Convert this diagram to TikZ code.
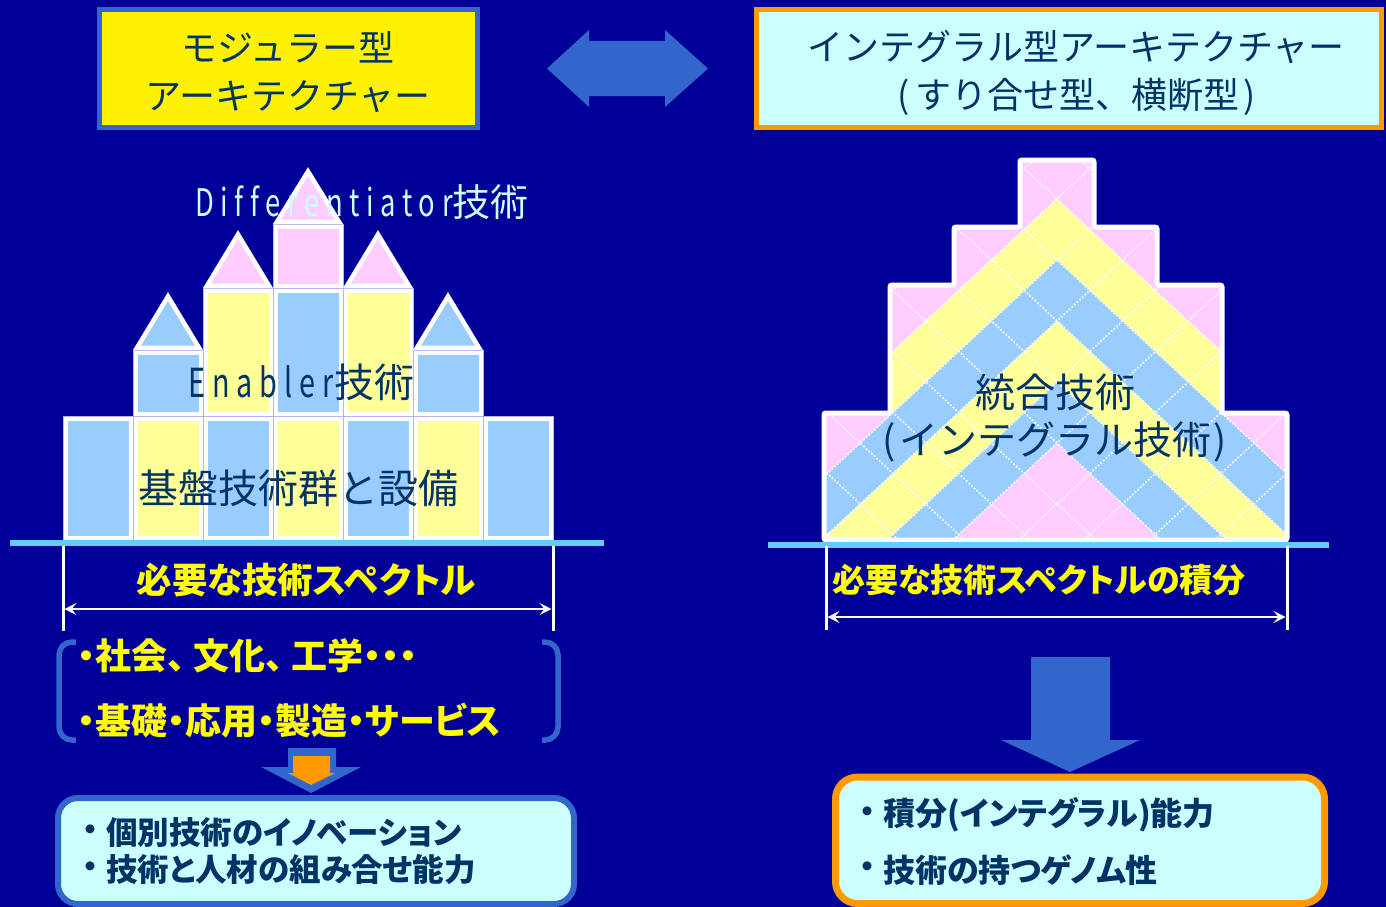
\documentclass[tikz,border=0pt]{standalone}
\usepackage{fontspec}
\setmainfont{Noto Sans CJK JP}
\newfontfamily\jpfont{Noto Sans CJK JP}
\newfontfamily\jpprop[RawFeature=+palt]{Noto Sans CJK JP}
\newfontfamily\latwide[FakeStretch=0.72,LetterSpace=17.5,Ligatures=NoCommon]{Noto Sans CJK JP}
\usetikzlibrary{arrows.meta}

\definecolor{bgnavy}{HTML}{000099}
\definecolor{shapeblue}{HTML}{3366CC}
\definecolor{inknavy}{HTML}{003366}
\definecolor{palecyan}{HTML}{CCFFFF}
\definecolor{warmorange}{HTML}{FF9900}
\definecolor{tilblue}{HTML}{99CCFF}
\definecolor{tilyellow}{HTML}{FFFF99}
\definecolor{tilpink}{HTML}{FFCCFF}
\definecolor{groundline}{HTML}{66CCFF}
\definecolor{seam}{HTML}{B4B4F0}
\definecolor{brightyellow}{HTML}{FFFF00}

\tikzset{
  title/.style={text=inknavy, inner sep=0pt, font=\jpfont\fontsize{36}{40}\selectfont},
  bigink/.style={text=inknavy, inner sep=0pt, font=\jpfont\fontsize{40}{44}\selectfont},
  yellowlabel/.style={text=brightyellow, inner sep=0pt, font=\jpprop\bfseries\fontsize{35.5}{40}\selectfont},
  fieldtext/.style={text=brightyellow, inner sep=0pt, anchor=west, font=\jpprop\bfseries\fontsize{36}{40}\selectfont},
  boxtext/.style={text=inknavy, inner sep=0pt, anchor=west, font=\jpprop\bfseries\fontsize{31.5}{36}\selectfont},
  boxbullet/.style={text=inknavy, inner sep=0pt, font=\jpfont\bfseries\fontsize{32}{36}\selectfont},
  extline/.style={white, line width=3pt},
  dimarrow/.style={white, line width=2.5pt, arrows={Stealth[length=12pt,width=12pt,inset=5pt]-Stealth[length=12pt,width=12pt,inset=5pt]}},
  gridline/.style={white, line width=1.6pt, dash pattern=on 1.7pt off 1.9pt},
  blockarrow/.style={fill=shapeblue},
}

\begin{document}
\begin{tikzpicture}[x=1pt,y=-1pt]
\useasboundingbox (0,0) rectangle (1386,907);
\fill[bgnavy] (0,0) rectangle (1386,907);

% ---------- headings ----------
\draw[draw=shapeblue, line width=5pt, fill=yellow] (99.5,9.5) rectangle (477.5,127.5);
\node[title] (modA) at (288,47) {モジュラー型};
\node[title] (modB) at (288,97) {アーキテクチャー};

\draw[draw=warmorange, line width=5pt, fill=palecyan] (756.5,9.5) rectangle (1381.5,127.5);
\node[title] (intA) at (1076,47) {インテグラル型アーキテクチャー};
\node[title] (intB) at (1077,97) {(\kern6pt すり合せ型、横断型\kern4pt)};

% double-headed block arrow between the two headings
\fill[blockarrow] (547,68.5) -- (589,30) -- (589,41) -- (665,41) -- (665,30) -- (708,68.5)
  -- (665,107) -- (665,96) -- (589,96) -- (589,107) -- cycle;

% ---------- modular castle ----------
\foreach \xa/\ya/\xb/\yb/\c in {
  63/416/133/540/tilblue, 133/416/203/540/tilyellow, 203/416/273/540/tilblue,
  273/416/343/540/tilyellow, 343/416/413/540/tilblue, 413/416/483/540/tilyellow,
  483/416/553/540/tilblue,
  133/350/203/416/tilblue, 203/288/273/416/tilyellow, 273/288/343/416/tilblue,
  343/288/413/416/tilyellow, 413/350/483/416/tilblue,
  273/224/343/288/tilpink} {
  \filldraw[draw=seam, line width=0.6pt, fill=white] (\xa,\ya) rectangle (\xb,\yb);
  \fill[\c] (\xa+4.5,\ya+4.5) rectangle (\xb-4.5,\yb-4.5);
}
\foreach \xa/\yb/\h/\c in {133/350/58/tilblue, 203/288/58/tilpink, 273/224/57/tilpink,
  343/288/58/tilpink, 413/350/58/tilblue} {
  \filldraw[fill=\c, draw=white, line width=4.5pt, line join=miter]
    (\xa+4,\yb-2.25) -- (\xa+35,\yb-\h+4.4) -- (\xa+66,\yb-2.25) -- cycle;
}

\node[anchor=base west, inner sep=0pt, text=palecyan, font=\fontsize{38}{42}\selectfont]
  (diff) at (195,216) {{\latwide Differentiator}{\jpfont 技術}};
\node[anchor=base west, inner sep=0pt, text=inknavy, font=\fontsize{40}{44}\selectfont]
  (enab) at (188,397) {{\latwide Enabler}{\jpfont 技術}};
\node[bigink] (found) at (298,488) {基盤技術群と設備};

% ground line and spectrum width
\draw[groundline, line width=6pt] (10,543) -- (604,543);
\coordinate (extLa) at (63,546);  \coordinate (extLb) at (63,631);
\coordinate (extLc) at (553,546); \coordinate (extLd) at (553,631);
\draw[extline] (extLa) -- (extLb);
\draw[extline] (extLc) -- (extLd);
\coordinate (dimLa) at (64.5,609); \coordinate (dimLb) at (551.5,609);
\draw[dimarrow] (dimLa) -- (dimLb);
\node[yellowlabel] (specL) at (306,580) {必要な技術スペクトル};

% bracketed fields
\draw[shapeblue, line width=5.5pt, rounded corners=13pt] (76,642) -- (59,642) -- (59,740) -- (76,740);
\draw[shapeblue, line width=5.5pt, rounded corners=13pt] (542,642) -- (558,642) -- (558,740) -- (542,740);
\node[fieldtext] (fieldA) at (77,656) {・社会、\kern8pt 文化、\kern8pt 工学・・・};
\node[fieldtext] (fieldB) at (77,721) {・基礎・応用・製造・サービス};

% small down arrow
\fill[shapeblue] (288,748) -- (336,748) -- (336,767) -- (361,767) -- (311,793) -- (261,767) -- (288,767) -- cycle;
\fill[warmorange] (293,756) -- (330,756) -- (330,773) -- (335,773) -- (311,785) -- (288,773) -- (293,773) -- cycle;

% result box (modular)
\draw[draw=shapeblue, line width=6pt, fill=palecyan, rounded corners=20pt] (58,798) rectangle (574,904);
\node[boxbullet] (mb1) at (90,833) {・};
\node[boxtext] (mt1) at (106,833) {個別技術のイノベーション};
\node[boxbullet] (mb2) at (90,870) {・};
\node[boxtext] (mt2) at (106,870) {技術と人材の組み合せ能力};

% ---------- integral stepped pyramid ----------
\begin{scope}
  \clip (824,540) -- (824,413) -- (890,413) -- (890,285) -- (954,285) -- (954,227)
    -- (1020,227) -- (1020,160) -- (1094,160) -- (1094,227) -- (1157,227) -- (1157,285)
    -- (1222,285) -- (1222,413) -- (1287,413) -- (1287,540) -- cycle;
  \fill[tilpink] (800,140) rectangle (1310,560);
  \foreach \n/\c in {0/tilyellow,1/tilblue,2/tilyellow,3/tilblue,4/tilpink} {
    \fill[\c] (757,{199+\n*61+279}) -- (1057,{199+\n*61}) -- (1357,{199+\n*61+279})
      -- (1357,900) -- (757,900) -- cycle;
  }
  \begin{scope}
    \clip (815,413) rectangle (890,560) (1222,413) rectangle (1300,560);
    \fill[tilpink] (757,{260+279}) -- (1057,260) -- (1357,{260+279}) -- (1357,100) -- (757,100) -- cycle;
  \end{scope}
  \foreach \i in {-6,...,11} {
    \draw[gridline] (800,{199+\i*61+239}) -- (1314,{199+\i*61-239});
    \draw[gridline] (800,{199+\i*61-239}) -- (1314,{199+\i*61+239});
  }
\end{scope}
\draw[white, line width=5pt, rounded corners=2pt] (824,540) -- (824,413) -- (890,413) -- (890,285)
  -- (954,285) -- (954,227) -- (1020,227) -- (1020,160) -- (1094,160) -- (1094,227)
  -- (1157,227) -- (1157,285) -- (1222,285) -- (1222,413) -- (1287,413) -- (1287,540) -- cycle;

\node[bigink] (pyA) at (1055,392) {統合技術};
\node[bigink, font=\jpfont\fontsize{39}{44}\selectfont] (pyB) at (1055,442) {(\kern4pt インテグラル技術\kern2pt)};

% ground line and spectrum width
\draw[groundline, line width=6pt] (768,545) -- (1329,545);
\coordinate (extRa) at (826,546);  \coordinate (extRb) at (826,630);
\coordinate (extRc) at (1287,546); \coordinate (extRd) at (1287,630);
\draw[extline] (extRa) -- (extRb);
\draw[extline] (extRc) -- (extRd);
\coordinate (dimRa) at (827.5,617); \coordinate (dimRb) at (1285.5,617);
\draw[dimarrow] (dimRa) -- (dimRb);
\node[yellowlabel, anchor=west, font=\jpprop\bfseries\fontsize{33}{38}\selectfont] (specR) at (832,580) {必要な技術スペクトルの積分};

% big down arrow
\fill[blockarrow] (1031,657) -- (1110,657) -- (1110,740) -- (1140,740) -- (1070,772)
  -- (1001,740) -- (1031,740) -- cycle;

% result box (integral)
\draw[draw=warmorange, line width=7pt, fill=palecyan, rounded corners=22pt] (835.5,777) rectangle (1324.5,903.5);
\node[boxbullet] (ib1) at (867,815) {・};
\node[boxtext, font=\jpprop\bfseries\fontsize{32}{36}\selectfont] (it1) at (883,815) {積分(インテグラル)能力};
\node[boxbullet] (ib2) at (867,870) {・};
\node[boxtext, font=\jpprop\bfseries\fontsize{32}{36}\selectfont] (it2) at (883,870) {技術の持つゲノム性};
\end{tikzpicture}
\end{document}
